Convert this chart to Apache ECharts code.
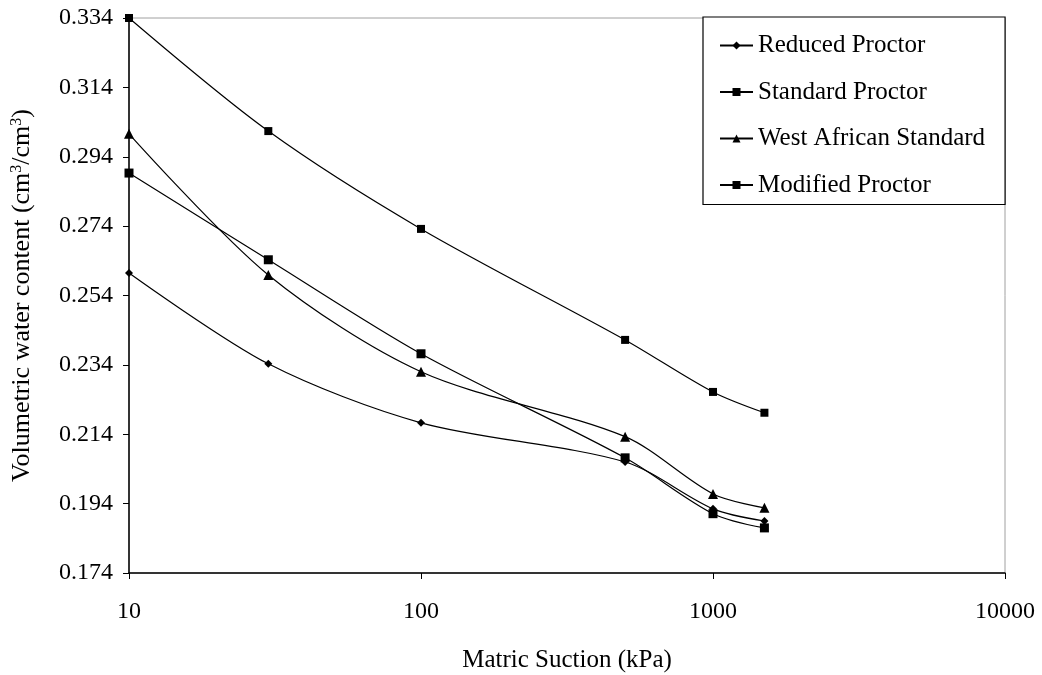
<!DOCTYPE html>
<html>
<head>
<meta charset="utf-8">
<script src="https://cdn.jsdelivr.net/npm/echarts@6/dist/echarts.min.js"></script>
<style>
  html, body { margin: 0; padding: 0; background: #fff; }
  #chart { width: 1042px; height: 675px; }
</style>
</head>
<body>
<div id="chart"></div>
<script>
// Matric suction steps (kPa)
const suction = [10, 30, 100, 500, 1000, 1500];

// Volumetric water content (cm3/cm3) for each compaction effort
const reducedProctor   = [0.2605, 0.2343, 0.2173, 0.2060, 0.1925, 0.1890];
const standardProctor  = [0.2893, 0.2643, 0.2372, 0.2072, 0.1911, 0.1870];
const westAfrican      = [0.3006, 0.2599, 0.2320, 0.2133, 0.1968, 0.1928];
const modifiedProctor  = [0.3340, 0.3014, 0.2732, 0.2412, 0.2262, 0.2202];

const seriesNames = ['Reduced Proctor', 'Standard Proctor', 'West African Standard', 'Modified Proctor'];
const seriesValues = [reducedProctor, standardProctor, westAfrican, modifiedProctor];
const seriesSymbols = ['diamond', 'rect', 'triangle', 'rect'];
const symbolSizes = [8, 9, 10, 8];

const yTicks = { min: 0.174, max: 0.334, step: 0.02 };
const xTicks = { min: 10, max: 10000 };

const serif = 'Liberation Serif';

const chart = echarts.init(document.getElementById('chart'));

const series = seriesNames.map((name, i) => ({
  name: name,
  type: 'line',
  smooth: 0.3,
  data: suction.map((x, j) => [x, seriesValues[i][j]]),
  symbol: seriesSymbols[i],
  symbolSize: symbolSizes[i],
  showSymbol: true,
  itemStyle: { color: '#000' },
  lineStyle: { color: '#000', width: 1.2 },
  emphasis: { disabled: true }
}));

chart.setOption({
  animation: false,
  backgroundColor: '#fff',
  grid: {
    left: 129, right: 37, top: 18, bottom: 102,
    containLabel: false,
    outerBoundsMode: 'none',
    show: true, borderColor: '#a0a0a0', borderWidth: 1, backgroundColor: 'transparent'
  },
  legend: {
    orient: 'vertical',
    left: 703, top: 17,
    padding: [16, 20, 7, 16],
    itemGap: 21.5,
    itemWidth: 33,
    itemHeight: 10,
    borderColor: '#000',
    borderWidth: 1.2,
    backgroundColor: '#fff',
    textStyle: { fontFamily: serif, fontSize: 25, color: '#000' },
    data: seriesNames
  },
  xAxis: {
    type: 'log',
    logBase: 10,
    min: xTicks.min,
    max: xTicks.max,
    name: 'Matric Suction (kPa)',
    nameLocation: 'middle',
    nameGap: 75,
    nameTextStyle: { fontFamily: serif, fontSize: 25, color: '#000' },
    axisLine: { lineStyle: { color: '#000', width: 1.5 } },
    axisTick: { inside: false, length: 6, lineStyle: { color: '#000' } },
    minorTick: { show: false },
    splitLine: { show: false },
    axisLabel: {
      fontFamily: serif, fontSize: 24, color: '#000', margin: 27,
      formatter: v => String(Math.round(v))
    }
  },
  yAxis: {
    type: 'value',
    min: yTicks.min,
    max: yTicks.max,
    interval: yTicks.step,
    name: '{a|Volumetric water content (cm}{s|3}{a|/cm}{s|3}{a|)}',
    nameLocation: 'middle',
    nameRotate: 90,
    nameGap: 94,
    nameTextStyle: {
      rich: {
        a: { fontFamily: serif, fontSize: 26, color: '#000' },
        s: { fontFamily: serif, fontSize: 16, color: '#000', verticalAlign: 'top', padding: [0, 0, 10, 0] }
      }
    },
    axisLine: { show: true, lineStyle: { color: '#000', width: 1.5 } },
    axisTick: { show: true, inside: false, length: 6, lineStyle: { color: '#000' } },
    splitLine: { show: false },
    axisLabel: {
      fontFamily: serif, fontSize: 24, color: '#000', margin: 16,
      formatter: v => v.toFixed(3)
    }
  },
  series: series
});
</script>
</body>
</html>
